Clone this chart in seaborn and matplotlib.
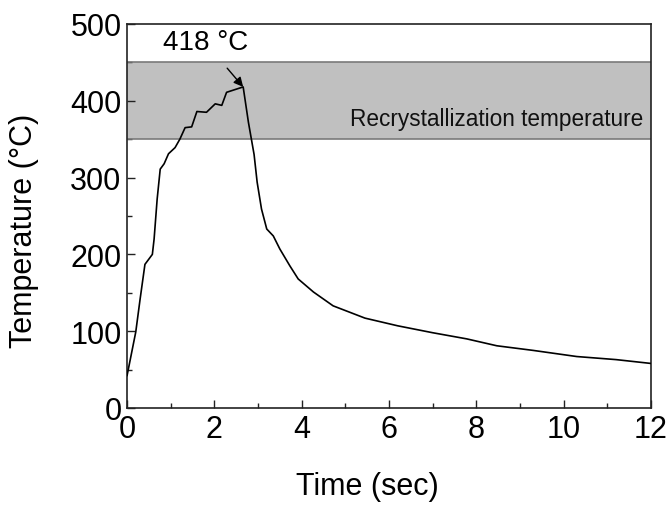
import matplotlib
matplotlib.use("Agg")
import matplotlib.pyplot as plt
import seaborn as sns
import pandas as pd

# Measured thermal cycle
time_s = [0.0, 0.2, 0.3, 0.41, 0.58, 0.62, 0.69, 0.76, 0.85, 0.95, 1.1, 1.21,
          1.33, 1.48, 1.6, 1.82, 2.02, 2.17, 2.28, 2.66, 2.78, 2.91, 2.98,
          3.08, 3.2, 3.35, 3.5, 3.73, 3.92, 4.27, 4.72, 5.45, 6.2, 7.0, 7.78,
          8.47, 9.3, 10.3, 11.2, 12.0]
temp_c = [42, 99, 142, 187, 200, 220, 272, 311, 318, 331, 339, 350,
          365, 366, 386, 385, 396, 394, 411, 418, 372, 330, 294,
          259, 233, 224, 207, 185, 168, 151, 133, 117, 107, 98, 90,
          81, 75, 67, 63, 58]

recryst_low, recryst_high = 350, 450
peak_time, peak_temp = 2.66, 418

x_ticks = [0, 2, 4, 6, 8, 10, 12]
y_ticks = [0, 100, 200, 300, 400, 500]

df = pd.DataFrame({"Time": time_s, "Temperature": temp_c})

sns.set_theme(style="ticks")
plt.rcParams["font.family"] = ["Liberation Sans", "DejaVu Sans"]
plt.rcParams["xtick.direction"] = "in"
plt.rcParams["ytick.direction"] = "in"
plt.rcParams["text.color"] = "black"
plt.rcParams["axes.labelcolor"] = "black"
plt.rcParams["xtick.labelcolor"] = "black"
plt.rcParams["ytick.labelcolor"] = "black"

fig = plt.figure(figsize=(6.7, 5.06), dpi=100)
ax = fig.add_axes([0.1896, 0.1917, 0.782, 0.759])

# Recrystallization band
ax.axhspan(recryst_low, recryst_high, facecolor="#c0c0c0", edgecolor="none", zorder=0)
ax.axhline(recryst_low, color="#7a7a7a", lw=1.2, zorder=1)
ax.axhline(recryst_high, color="#7a7a7a", lw=1.2, zorder=1)
ax.text(11.82, 377, "Recrystallization temperature", ha="right", va="center",
        fontsize=16.3, color="#111111")

sns.lineplot(data=df, x="Time", y="Temperature", ax=ax, color="black",
             lw=1.2, estimator=None, sort=False, zorder=3)

ax.annotate(f"{peak_temp} °C", xy=(peak_time, peak_temp), xytext=(1.79, 476),
            ha="center", va="center", fontsize=20,
            arrowprops=dict(arrowstyle="-|>", color="black", lw=1.0,
                            mutation_scale=14, shrinkA=9, shrinkB=0))

ax.set_xlim(0, 12)
ax.set_ylim(0, 500)
ax.set_xticks(x_ticks)
ax.set_yticks(y_ticks)
ax.set_xticks([1, 3, 5, 7, 9, 11], minor=True)
ax.set_yticks([50, 150, 250, 350, 450], minor=True)
ax.tick_params(which="major", length=6, width=1.0, labelsize=22, pad=4, color="#222222")
ax.tick_params(which="minor", length=3.5, width=1.0, color="#222222")

ax.set_xlabel("Time (sec)", fontsize=22)
ax.set_ylabel("Temperature (°C)", fontsize=22)
ax.xaxis.set_label_coords(0.458, -0.165)
ax.yaxis.set_label_coords(-0.168, 0.464)

for s in ax.spines.values():
    s.set_visible(True)
    s.set_linewidth(1.2)
    s.set_color("#222222")

fig.savefig("out.png", dpi=100, facecolor="white")
